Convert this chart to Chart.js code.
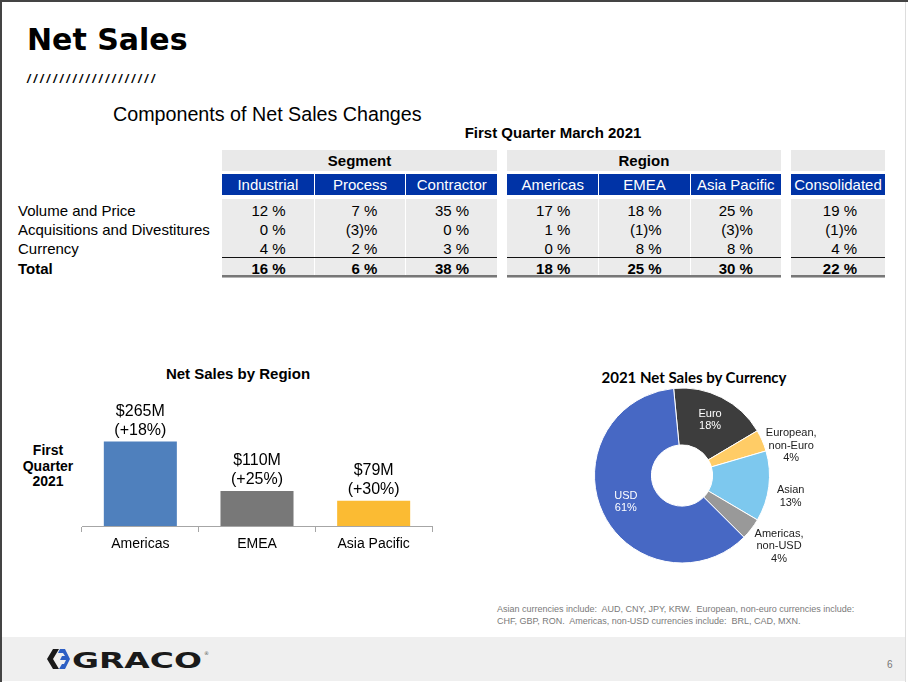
<!DOCTYPE html>
<html>
<head>
<meta charset="utf-8">
<script src="https://cdn.jsdelivr.net/npm/chart.js@4.4.0/dist/chart.umd.min.js"></script>
<style>
html, body { margin: 0; padding: 0; background: #fff; }
#slide { position: relative; width: 908px; height: 682px; overflow: hidden; font-family: "Liberation Sans", Arial, sans-serif; color: #000; }
.abs { position: absolute; white-space: nowrap; }
.cell { position: absolute; box-sizing: border-box; text-align: center; }
</style>
</head>
<body>
<div id="slide">
  <div class="abs" style="left:0;top:0;width:908px;height:2px;background:#444;"></div>
  <div class="abs" style="left:0;top:0;width:2px;height:682px;background:#444;"></div>
  <div class="abs" style="left:905px;top:2px;width:1px;height:680px;background:#ddd;"></div>

  <div class="abs" style="left:27px;top:22px;font:bold 30px 'DejaVu Sans',sans-serif;line-height:36px;">Net Sales</div>
  <div class="abs" style="left:27px;top:72px;font:italic bold 12px 'Liberation Sans',Arial;letter-spacing:3.2px;line-height:14px;">////////////////////</div>

  <div class="abs" style="left:113px;top:102px;font-size:19.7px;line-height:24px;">Components of Net Sales Changes</div>
  <div class="abs" style="left:453px;width:200px;text-align:center;top:124px;font-weight:bold;font-size:15px;line-height:18px;">First Quarter March 2021</div>

  <div id="table"></div>

  <div class="abs" style="left:138px;width:200px;text-align:center;top:365px;font-weight:bold;font-size:15px;line-height:18px;">Net Sales by Region</div>
  <div class="abs" style="left:8px;width:80px;text-align:center;top:443px;font-weight:bold;font-size:14px;line-height:15.5px;white-space:normal;">First<br>Quarter<br>2021</div>
  <canvas id="barChart" class="abs" style="left:0;top:390px;" width="476" height="170"></canvas>

  <div class="abs" style="left:594px;width:200px;text-align:center;top:367px;font:bold 15px Lato,sans-serif;line-height:20px;">2021 Net Sales by Currency</div>
  <canvas id="pieChart" class="abs" style="left:560px;top:380px;" width="300" height="200"></canvas>

  <div class="abs" style="left:497px;top:604px;font-size:9px;line-height:11.5px;color:#7a7a7a;white-space:pre;">Asian currencies include:  AUD, CNY, JPY, KRW.  European, non-euro currencies include:
CHF, GBP, RON.  Americas, non-USD currencies include:  BRL, CAD, MXN.</div>

  <div class="abs" style="left:2px;top:637px;width:903px;height:44px;background:#efefef;"></div>
  <svg class="abs" style="left:44px;top:646px;" width="170" height="26" viewBox="0 0 170 26">
    <polygon points="9,3 15,3 9,13 15,23 9,23 3,13" fill="#1a1a1a"/>
    <polygon points="16,3 21,3 26,13 21,23 15,23 18,18 20,18 22,14 16,14 18,10 21,10 19,7 14,7" fill="#2d5fc4"/>
    <text x="28" y="22" textLength="130" lengthAdjust="spacingAndGlyphs" font-family="DejaVu Sans" font-weight="bold" font-size="21" fill="#1a1a1a">GRACO</text>
    <text x="160" y="9" font-family="DejaVu Sans" font-size="5" fill="#555">®</text>
  </svg>
  <div class="abs" style="left:887px;top:659px;font-size:10px;color:#777;">6</div>
</div>

<script>
// components of net sales changes (percent)
var rowLabels = ['Volume and Price', 'Acquisitions and Divestitures', 'Currency', 'Total'];
var segmentCols = ['Industrial', 'Process', 'Contractor'];
var segmentRows = [[12, 7, 35], [0, -3, 0], [4, 2, 3], [16, 6, 38]];
var regionCols = ['Americas', 'EMEA', 'Asia Pacific'];
var regionRows = [[17, 18, 25], [1, -1, -3], [0, 8, 8], [18, 25, 30]];
var consolidatedCols = ['Consolidated'];
var consolidatedRows = [[19], [-1], [4], [22]];

// net sales by region
var regions = ['Americas', 'EMEA', 'Asia Pacific'];
var regionSales = [265, 110, 79];
var regionGrowth = [18, 25, 30];
var barColors = ['#4f80bd', '#787878', '#fbbb33'];

// net sales by currency
var currencies = [['Euro'], ['European,', 'non-Euro'], ['Asian'], ['Americas,', 'non-USD'], ['USD']];
var currencyShare = [18, 4, 13, 4, 61];
var pieColors = ['#3d3d3d', '#ffcc66', '#7dc8ee', '#999999', '#4768c4'];
// small nudges for the outside labels (style only)
var labelNudge = [[0, 0], [6, 1], [-3, -7], [8, -12], [0, 0]];

function pct(v) { return v < 0 ? '(' + (-v) + ')%' : v + ' %'; }

var table = document.getElementById('table');
function add(cls, css, text) {
    var d = document.createElement('div');
    d.className = cls;
    d.style.cssText = css;
    if (text !== undefined) d.textContent = text;
    table.appendChild(d);
    return d;
}

rowLabels.forEach(function (lab, r) {
    var top = r < 3 ? 201 + r * 19 : 259;
    add('abs', 'left:18px;top:' + top + 'px;font-size:15px;line-height:19px;' + (r == 3 ? 'font-weight:bold;' : ''), lab);
});

var blocks = [
    { title: 'Segment', left: 222, w: 91.7, cols: segmentCols, rows: segmentRows },
    { title: 'Region', left: 507, w: 91.3, cols: regionCols, rows: regionRows },
    { title: '', left: 791, w: 94, cols: consolidatedCols, rows: consolidatedRows }
];
blocks.forEach(function (b) {
    var width = b.w * b.cols.length;
    add('cell', 'left:' + b.left + 'px;top:150px;width:' + width + 'px;height:21px;background:#e9e9e9;font-weight:bold;font-size:15px;line-height:21px;', b.title);
    b.cols.forEach(function (c, i) {
        var x = b.left + i * b.w;
        var sep = i > 0 ? 'border-left:1px solid #fff;' : '';
        add('cell', 'left:' + x + 'px;top:174px;width:' + b.w + 'px;height:21px;background:#0033a6;color:#fff;font-size:15px;line-height:21px;' + sep, c);
        add('cell', 'left:' + x + 'px;top:199px;width:' + b.w + 'px;height:58px;background:#ebebeb;' + sep);
        add('cell', 'left:' + x + 'px;top:258px;width:' + b.w + 'px;height:17px;background:#ebebeb;' + sep);
        b.rows.forEach(function (row, r) {
            var top = r < 3 ? 201 + r * 19 : 259;
            add('cell', 'left:' + x + 'px;top:' + top + 'px;width:' + b.w + 'px;padding-right:28px;text-align:right;font-size:15px;line-height:19px;' + (r == 3 ? 'font-weight:bold;' : ''), pct(row[i]));
        });
    });
    add('cell', 'left:' + b.left + 'px;top:257px;width:' + width + 'px;height:1px;background:#111;');
    add('cell', 'left:' + b.left + 'px;top:275px;width:' + width + 'px;height:2px;background:#777;');
    add('cell', 'left:' + b.left + 'px;top:277px;width:' + width + 'px;height:1px;background:#b5b5b5;');
});

var barLabels = {
    id: 'barLabels',
    afterDatasetsDraw: function (chart) {
        var ctx = chart.ctx;
        ctx.save();
        ctx.font = '16px "Liberation Sans", Arial, sans-serif';
        ctx.fillStyle = '#000';
        ctx.textAlign = 'center';
        ctx.textBaseline = 'middle';
        chart.getDatasetMeta(0).data.forEach(function (bar, i) {
            ctx.fillText('$' + regionSales[i] + 'M', bar.x, bar.y - 30);
            ctx.fillText('(+' + regionGrowth[i] + '%)', bar.x, bar.y - 11);
        });
        ctx.restore();
    }
};

new Chart(document.getElementById('barChart'), {
    type: 'bar',
    data: {
        labels: regions,
        datasets: [{
            data: regionSales,
            backgroundColor: barColors,
            barPercentage: 0.626,
            categoryPercentage: 1
        }]
    },
    options: {
        responsive: false,
        animation: false,
        layout: { padding: { left: 82, right: 44, top: 10, bottom: 0 } },
        plugins: { legend: { display: false }, tooltip: { enabled: false } },
        scales: {
            x: {
                afterFit: function (s) { s.height = 34; },
                grid: { drawOnChartArea: false, tickLength: 6, tickColor: '#a6a6a6' },
                border: { color: '#a6a6a6', width: 1 },
                ticks: { color: '#000', padding: 4, font: { family: '"Liberation Sans", Arial', size: 14 } }
            },
            y: { display: false, min: 0, max: 395 }
        }
    },
    plugins: [barLabels]
});

var pieLabels = {
    id: 'pieLabels',
    afterDatasetsDraw: function (chart) {
        var ctx = chart.ctx;
        ctx.save();
        ctx.font = '11px "Liberation Sans", Arial, sans-serif';
        ctx.textAlign = 'center';
        ctx.textBaseline = 'middle';
        chart.getDatasetMeta(0).data.forEach(function (arc, i) {
            var mid = (arc.startAngle + arc.endAngle) / 2;
            var lines = currencies[i].concat([currencyShare[i] + '%']);
            var inside = currencyShare[i] >= 15;
            var r = inside ? arc.outerRadius * 0.71 : arc.outerRadius + 25;
            var cx = arc.x + Math.cos(mid) * r + labelNudge[i][0];
            var cy = arc.y + Math.sin(mid) * r + (inside ? 0 : 14) + labelNudge[i][1];
            ctx.fillStyle = inside ? '#fff' : '#222';
            var lh = 12.5;
            lines.forEach(function (t, k) {
                ctx.fillText(t, cx, cy + (k - (lines.length - 1) / 2) * lh);
            });
        });
        ctx.restore();
    }
};

new Chart(document.getElementById('pieChart'), {
    type: 'doughnut',
    data: {
        labels: currencies,
        datasets: [{
            data: currencyShare,
            backgroundColor: pieColors,
            borderColor: '#fff',
            borderWidth: 1,
            hoverOffset: 0
        }]
    },
    options: {
        responsive: false,
        animation: false,
        rotation: -5.5,
        cutout: '35%',
        layout: { padding: { left: 34, top: 7, right: 90, bottom: 16 } },
        plugins: { legend: { display: false }, tooltip: { enabled: false } }
    },
    plugins: [pieLabels]
});
</script>
</body>
</html>
